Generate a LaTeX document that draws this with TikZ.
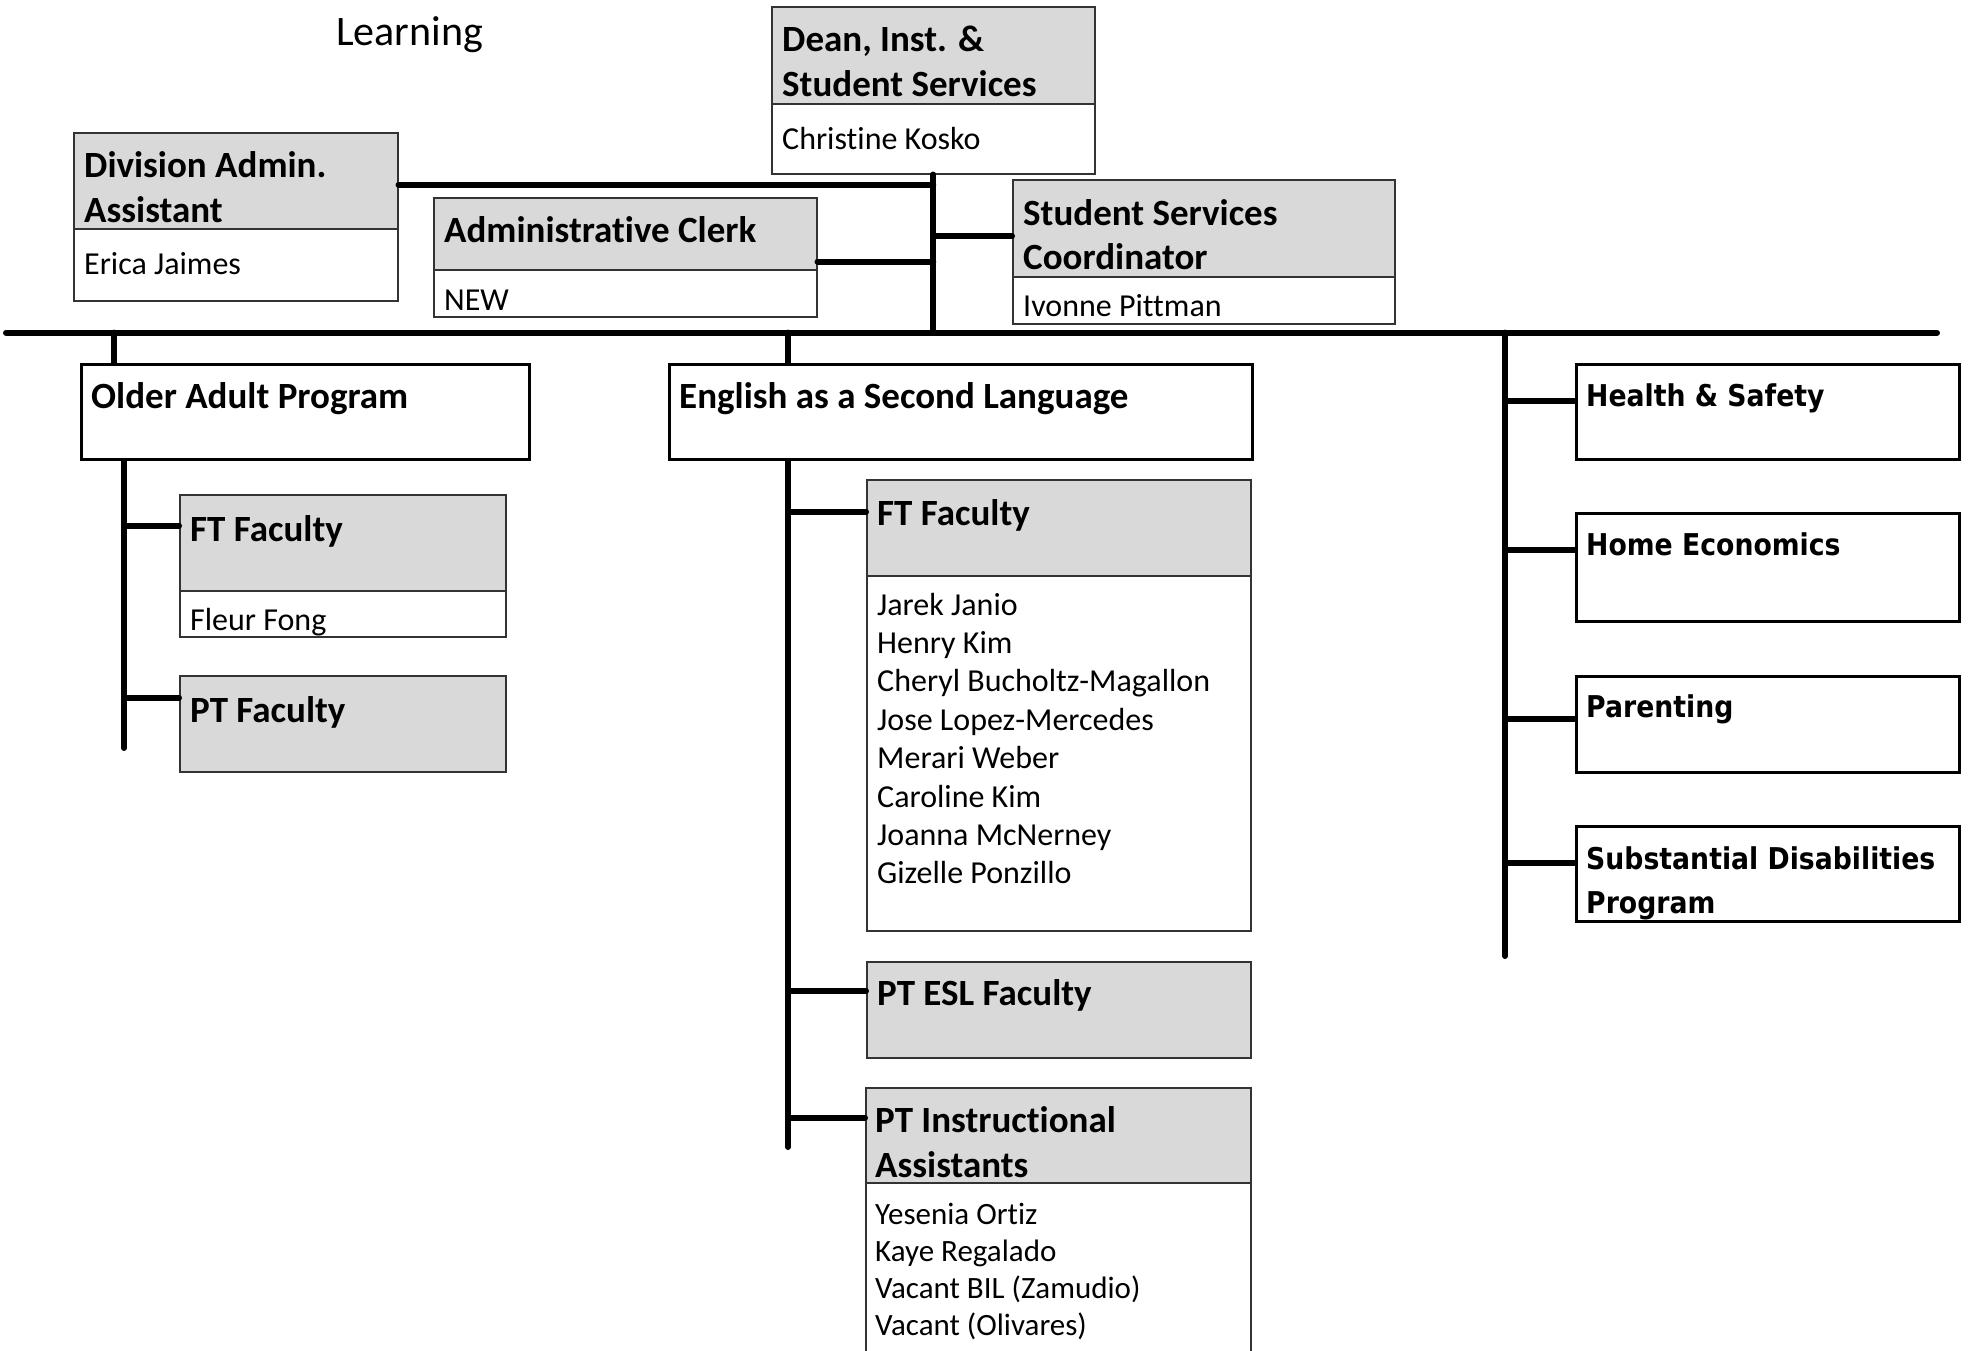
\documentclass[tikz,border=0pt]{standalone}
\usepackage{graphicx}
\usepackage{fontspec}
\setmainfont{Carlito}[Ligatures=NoCommon]
\newfontfamily\verdfont{DejaVu Sans}[Ligatures=NoCommon]
\definecolor{hdrgray}{HTML}{D9D9D9}
\newcommand{\vsq}[1]{\scalebox{0.89}[1]{#1}}
\tikzset{
  hdr/.style={draw=black!80, fill=hdrgray, line width=1.5pt, rectangle, inner sep=0pt, anchor=north west},
  bodyb/.style={draw=black!80, fill=white, line width=1.5pt, rectangle, inner sep=0pt, anchor=north west},
  unitb/.style={draw=black, fill=white, line width=3pt, rectangle, inner sep=0pt, anchor=north west},
  conn/.style={line width=6pt, line cap=round},
  btxt/.style={anchor=base west, inner sep=0pt, font=\fontsize{37}{45}\selectfont\bfseries},
  ntxt/.style={anchor=base west, inner sep=0pt, font=\fontsize{32}{38}\selectfont},
  stxt/.style={anchor=base west, inner sep=0pt, font=\fontsize{31}{37}\selectfont},
  vtxt/.style={anchor=base west, inner sep=0pt, font=\verdfont\fontsize{30}{44}\selectfont\bfseries},
  ttxt/.style={anchor=base west, inner sep=0pt, font=\fontsize{42}{50}\selectfont},
}
\begin{document}
\begin{tikzpicture}[x=1pt,y=-1pt]
\clip (0,0) rectangle (1968,1350);
\fill[white] (0,0) rectangle (1968,1350);

% title fragment
\node[ttxt] (title) at (336,45) {Learning};

% top level boxes
\node[hdr, minimum width=323pt, minimum height=97pt] (deanh) at (771,6) {};
\node[bodyb, minimum width=323pt, minimum height=70pt] (deanb) at (771,103) {};
\node[btxt] (deant1) at (782,51) {Dean, Inst. \&};
\node[btxt] (deant2) at (782,96) {Student Services};
\node[ntxt] (deann) at (782,149) {Christine Kosko};

\node[hdr, minimum width=324pt, minimum height=96pt] (divh) at (73,132) {};
\node[bodyb, minimum width=324pt, minimum height=72pt] (divb) at (73,228) {};
\node[btxt] (divt1) at (84,177) {Division Admin.};
\node[btxt] (divt2) at (84,222) {Assistant};
\node[ntxt] (divn) at (84,274) {Erica Jaimes};

\node[hdr, minimum width=383pt, minimum height=72pt] (clerkh) at (433,197) {};
\node[bodyb, minimum width=383pt, minimum height=47pt] (clerkb) at (433,269) {};
\node[btxt] (clerkt) at (444,242) {Administrative Clerk};
\node[ntxt] (clerkn) at (444,310) {NEW};

\node[hdr, minimum width=382pt, minimum height=97pt] (ssch) at (1012,179) {};
\node[bodyb, minimum width=382pt, minimum height=47pt] (sscb) at (1012,276) {};
\node[btxt] (ssct1) at (1023,225) {Student Services};
\node[btxt] (ssct2) at (1023,269) {Coordinator};
\node[ntxt] (sscn) at (1023,316) {Ivonne Pittman};

% main bar and trunk
\coordinate (barL) at (6,332.6);
\coordinate (barR) at (1937,332.6);
\draw[conn] (barL) -- (barR);
\draw[conn] (deanb.south) -- (deanb.south |- barL);
\draw[conn] ([yshift=-4pt]divh.east) -- ([yshift=-4pt]divh.east -| deanb.south);
\draw[conn] ([yshift=9pt]clerkh.south east) -- ([yshift=9pt]clerkh.south east -| deanb.south);
\draw[conn] ([yshift=-8pt]ssch.west) -- ([yshift=-8pt]ssch.west -| deanb.south);

% Older Adult Program
\node[unitb, minimum width=448pt, minimum height=95pt] (oa) at (80,363) {};
\node[btxt] (oat) at (91,408) {Older Adult Program};
\draw[conn] ([xshift=34pt]oa.north west) -- ([xshift=34pt]oa.north west |- barL);
\coordinate (oaend) at (124,748);
\draw[conn] ([xshift=44pt]oa.south west) -- (oaend);

\node[hdr, minimum width=326pt, minimum height=96pt] (ftoah) at (179,494) {};
\node[bodyb, minimum width=326pt, minimum height=46pt] (ftoab) at (179,590) {};
\node[btxt] (ftoat) at (190,541) {FT Faculty};
\node[ntxt] (ftoan) at (190,630) {Fleur Fong};
\draw[conn] ([yshift=17pt]ftoah.west) -- ([yshift=17pt]ftoah.west -| oaend);

\node[hdr, minimum width=326pt, minimum height=96pt] (ptoah) at (179,675) {};
\node[btxt] (ptoat) at (190,722) {PT Faculty};
\draw[conn] ([yshift=26pt]ptoah.west) -- ([yshift=26pt]ptoah.west -| oaend);

% English as a Second Language
\node[unitb, minimum width=583pt, minimum height=95pt] (esl) at (668,363) {};
\node[btxt] (eslt) at (679,408) {English as a Second Language};
\draw[conn] ([xshift=120pt]esl.north west) -- ([xshift=120pt]esl.north west |- barL);
\coordinate (eslend) at (788,1147);
\draw[conn] ([xshift=120pt]esl.south west) -- (eslend);

\node[hdr, minimum width=384pt, minimum height=96pt] (fteh) at (866,479) {};
\node[bodyb, minimum width=384pt, minimum height=355pt] (fteb) at (866,575) {};
\node[btxt] (ftet) at (877,525) {FT Faculty};
\foreach \nm [count=\k from 0] in {Jarek Janio, Henry Kim, Cheryl Bucholtz-Magallon, Jose Lopez-Mercedes, Merari Weber, Caroline Kim, Joanna McNerney, Gizelle Ponzillo}
  \node[ntxt] (ften\k) at (877,615+38.4*\k) {\nm};
\draw[conn] ([yshift=16pt]fteh.west) -- ([yshift=16pt]fteh.west -| eslend);

\node[hdr, minimum width=384pt, minimum height=96pt] (pteh) at (866,961) {};
\node[btxt] (ptet) at (877,1005) {PT ESL Faculty};
\draw[conn] ([yshift=19pt]pteh.west) -- ([yshift=19pt]pteh.west -| eslend);

\node[hdr, minimum width=385pt, minimum height=95pt] (ptiah) at (865,1087) {};
\node[bodyb, minimum width=385pt, minimum height=220pt] (ptiab) at (865,1182) {};
\node[btxt] (ptiat1) at (875,1132) {PT Instructional};
\node[btxt] (ptiat2) at (875,1177) {Assistants};
\foreach \nm [count=\k from 0] in {Yesenia Ortiz, Kaye Regalado, Vacant BIL (Zamudio), Vacant (Olivares)}
  \node[stxt] (ptian\k) at (875,1224+37.3*\k) {\nm};
\draw[conn] ([yshift=17.5pt]ptiah.west) -- ([yshift=17.5pt]ptiah.west -| eslend);

% right column
\coordinate (rend) at (1505,956);
\draw[conn] (rend |- barL) -- (rend);

\node[unitb, minimum width=383pt, minimum height=95pt] (hs) at (1575,363) {};
\node[vtxt] (hst) at (1586,406) {\vsq{Health \& Safety}};
\draw[conn] ([yshift=11.5pt]hs.west) -- ([yshift=11.5pt]hs.west -| rend);

\node[unitb, minimum width=383pt, minimum height=108pt] (he) at (1575,512) {};
\node[vtxt] (het) at (1586,555) {\vsq{Home Economics}};
\draw[conn] ([yshift=18pt]he.west) -- ([yshift=18pt]he.west -| rend);

\node[unitb, minimum width=383pt, minimum height=96pt] (par) at (1575,675) {};
\node[vtxt] (part) at (1586,717) {\vsq{Parenting}};
\draw[conn] ([yshift=6pt]par.west) -- ([yshift=6pt]par.west -| rend);

\node[unitb, minimum width=383pt, minimum height=95pt] (sd) at (1575,825) {};
\node[vtxt] (sdt1) at (1586,869) {\vsq{Substantial Disabilities}};
\node[vtxt] (sdt2) at (1586,913) {\vsq{Program}};
\draw[conn] ([yshift=11.5pt]sd.west) -- ([yshift=11.5pt]sd.west -| rend);
\end{tikzpicture}
\end{document}
